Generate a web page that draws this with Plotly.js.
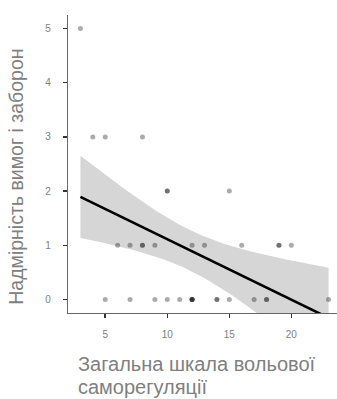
<!DOCTYPE html>
<html>
<head>
<meta charset="utf-8">
<script src="https://cdn.plot.ly/plotly-3.0.1.min.js"></script>
<style>
html, body { margin:0; padding:0; overflow:hidden; background:#fff; width:337px; height:399px; }
#chart { width:345px; height:399px; }
</style>
</head>
<body>
<div id="chart"></div>
<script>
// Observed points (x = загальна шкала вольової саморегуляції, y = надмірність вимог і заборон)
const xValues = [3, 4, 5, 8, 10, 10, 15, 6, 7, 8, 8, 9, 12, 13, 16, 19, 19, 20,
                 5, 7, 9, 10, 11, 12, 12, 12, 12, 14, 14, 15, 17, 18, 18, 23];
const yValues = [5, 3, 3, 3, 2, 2, 2, 1, 1, 1, 1, 1, 1, 1, 1, 1, 1, 1,
                 0, 0, 0, 0, 0, 0, 0, 0, 0, 0, 0, 0, 0, 0, 0, 0];
const xTicks = [5, 10, 15, 20];
const yTicks = [0, 1, 2, 3, 4, 5];
const xTitleLines = ["Загальна шкала вольової", "саморегуляції"];
const yTitle = "Надмірність вимог і заборон";

// Linear fit with 95% confidence band (like geom_smooth(method = "lm"))
const n = xValues.length;
const mx = xValues.reduce((a, b) => a + b, 0) / n;
const my = yValues.reduce((a, b) => a + b, 0) / n;
let sxx = 0, sxy = 0;
for (let i = 0; i < n; i++) { sxx += (xValues[i] - mx) ** 2; sxy += (xValues[i] - mx) * (yValues[i] - my); }
const slope = sxy / sxx;
const intercept = my - slope * mx;
let sse = 0;
for (let i = 0; i < n; i++) { sse += (yValues[i] - (intercept + slope * xValues[i])) ** 2; }
const s = Math.sqrt(sse / (n - 2));
const tCrit = 2.037; // t(0.975, df = 32)
const xMin = Math.min(...xValues), xMax = Math.max(...xValues);
const fx = [], fy = [], lo = [], hi = [];
for (let k = 0; k <= 80; k++) {
  const x = xMin + (xMax - xMin) * k / 80;
  const yhat = intercept + slope * x;
  const se = s * Math.sqrt(1 / n + (x - mx) ** 2 / sxx);
  fx.push(x); fy.push(yhat); lo.push(yhat - tCrit * se); hi.push(yhat + tCrit * se);
}

const tickFont = {family: "Liberation Sans, Arial, sans-serif", size: 10, color: "#808080"};
const titleFont = {family: "Liberation Sans, Arial, sans-serif", size: 20, color: "#808080"};
const yTitleFont = {family: "Liberation Sans, Arial, sans-serif", size: 19.5, color: "#808080"};

const traces = [
  {x: fx.concat(fx.slice().reverse()), y: hi.concat(lo.slice().reverse()), type: "scatter", mode: "lines",
   fill: "toself", fillcolor: "#d6d6d6", line: {width: 0}, hoverinfo: "skip", showlegend: false},
  {x: xValues, y: yValues, type: "scatter", mode: "markers",
   marker: {size: 5, color: "rgba(0,0,0,0.33)", line: {width: 0}}, showlegend: false},
  {x: fx, y: fy, type: "scatter", mode: "lines", line: {color: "#000", width: 2.6}, showlegend: false}
];

const layout = {
  width: 345, height: 399,
  margin: {l: 68, r: 4, t: 15, b: 86},
  paper_bgcolor: "#fff", plot_bgcolor: "#fff",
  showlegend: false,
  xaxis: {range: [2, 24], tickvals: xTicks, ticktext: xTicks.map(String), showgrid: false, zeroline: false,
          showline: true, linecolor: "#666", linewidth: 1.2, ticks: "outside", ticklen: 4, tickwidth: 1.5,
          tickcolor: "#333", tickfont: tickFont, ticklabelstandoff: 8},
  yaxis: {range: [-0.25, 5.25], tickvals: yTicks, ticktext: yTicks.map(String), showgrid: false, zeroline: false,
          showline: true, linecolor: "#666", linewidth: 1.2, ticks: "outside", ticklen: 4, tickwidth: 1.5,
          tickcolor: "#333", tickfont: tickFont, ticklabelstandoff: 10},
  annotations: [
    {text: xTitleLines[0], xref: "paper", yref: "paper", x: 0.031, y: -0.128, xanchor: "left", yanchor: "top",
     align: "left", showarrow: false, font: titleFont},
    {text: xTitleLines[1], xref: "paper", yref: "paper", x: 0.031, y: -0.2035, xanchor: "left", yanchor: "top",
     align: "left", showarrow: false, font: titleFont},
    {text: yTitle, xref: "paper", yref: "paper", x: -0.19, y: 0.4575, xanchor: "center", yanchor: "middle",
     textangle: -90, showarrow: false, font: yTitleFont}
  ]
};

Plotly.newPlot("chart", traces, layout, {staticPlot: true, displayModeBar: false});
</script>
</body>
</html>
